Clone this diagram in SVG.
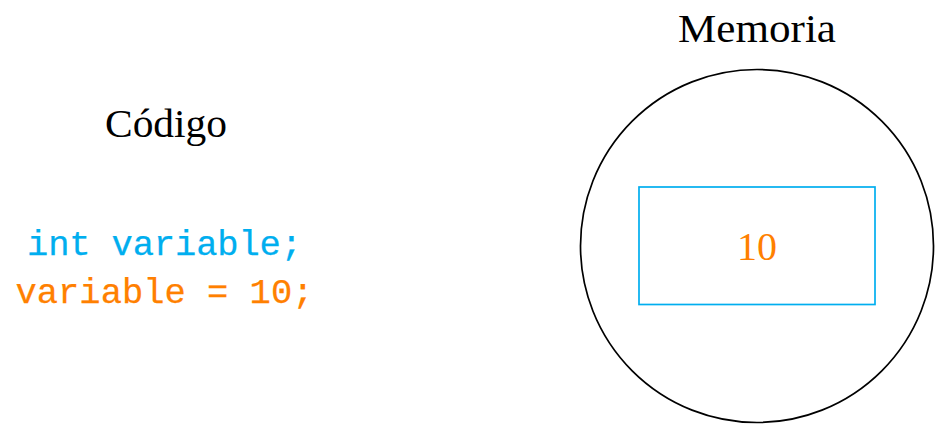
<svg xmlns="http://www.w3.org/2000/svg" width="935" height="424" viewBox="0 0 935 424">
<style>
.serif{font-family:"Liberation Serif","Times New Roman",serif;font-size:40px;fill:#000;text-anchor:middle}
.mono{font-family:"Liberation Mono","Courier New",monospace;font-size:35.5px;text-anchor:middle;stroke-width:0.25px}
.cyan{fill:#00AEEF;stroke:#00AEEF}
.orange{fill:#FF8000}
.mono.orange{stroke:#FF8000}
</style>
<rect width="935" height="424" fill="#fff"/>
<g id="codigo">
<text class="serif" x="166" y="137" textLength="122" lengthAdjust="spacingAndGlyphs">Código</text>
<text class="mono cyan" x="164.5" y="255" textLength="275">int variable;</text>
<text class="mono orange" x="164.5" y="303" textLength="298">variable = 10;</text>
</g>
<g id="memoria">
<text class="serif" x="757" y="42" textLength="158" lengthAdjust="spacingAndGlyphs">Memoria</text>
<circle cx="757" cy="246" r="176.5" fill="none" stroke="#000" stroke-width="1.7"/>
</g>
<g id="variable">
<rect x="639" y="187" width="236" height="117.5" fill="none" stroke="#00AEEF" stroke-width="1.7"/>
<text class="serif orange" x="757" y="260">10</text>
</g>
<g id="connectors"/>
</svg>
